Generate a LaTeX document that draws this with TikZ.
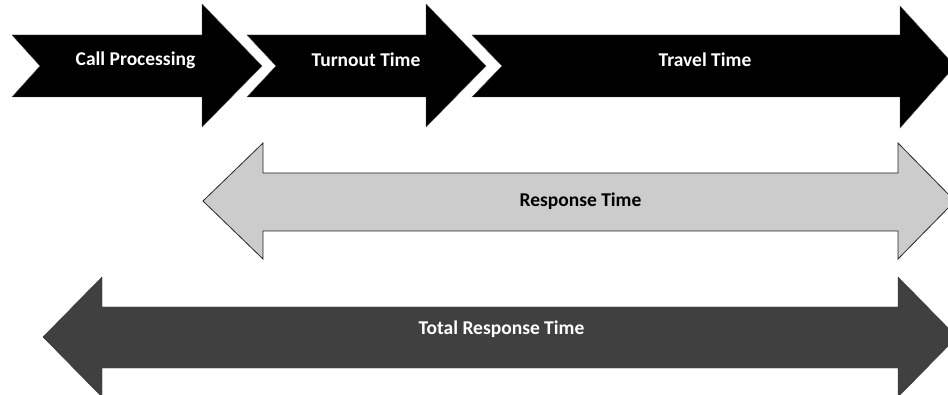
\documentclass[tikz,border=0pt]{standalone}
\usepackage{fontspec}
\setmainfont{Carlito}
\begin{document}
\begin{tikzpicture}[x=1pt,y=-1pt,
  lbl/.style={font=\bfseries\fontsize{19.5}{22}\selectfont, inner sep=0pt, anchor=center},
  toparrow/.style={fill=black, draw=black!70, line width=0.4pt},
  resparrow/.style={fill=black!20, draw=black!85, line width=0.8pt},
  totarrow/.style={fill=black!75, draw=black!80, line width=0.4pt}]
\useasboundingbox (0,0) rectangle (948,395);
\clip (0,0) rectangle (948,395);
% top row
\draw[toparrow] (12,35) -- (202,35) -- (202,4) -- (262,66) -- (202,127) -- (202,97) -- (12,97) -- (40,66) -- cycle;
\draw[toparrow] (247,35) -- (426,35) -- (426,4) -- (486,66) -- (426,127) -- (426,97) -- (247,97) -- (276,66) -- cycle;
\draw[toparrow] (472,35) -- (900,35) -- (900,6) -- (955,66) -- (900,128) -- (900,97) -- (472,97) -- (502,66) -- cycle;
\node[lbl, text=white] (call) at (135.5,60) {Call Processing};
\node[lbl, text=white] (turnout) at (366,60) {Turnout Time};
\node[lbl, text=white] (travel) at (705,60) {Travel Time};
% response time
\draw[resparrow] (203,201) -- (263,143) -- (263,173) -- (898,173) -- (898,143) -- (955,201) -- (898,259) -- (898,231) -- (263,231) -- (263,259) -- cycle;
\node[lbl, text=black] (resp) at (580.5,201) {Response Time};
% total response time
\draw[totarrow] (43,337) -- (102,277) -- (102,307) -- (898,307) -- (898,277) -- (957,337) -- (898,397) -- (898,368) -- (102,368) -- (102,397) -- cycle;
\node[lbl, text=white] (total) at (501.5,329) {Total Response Time};
\end{tikzpicture}
\end{document}
